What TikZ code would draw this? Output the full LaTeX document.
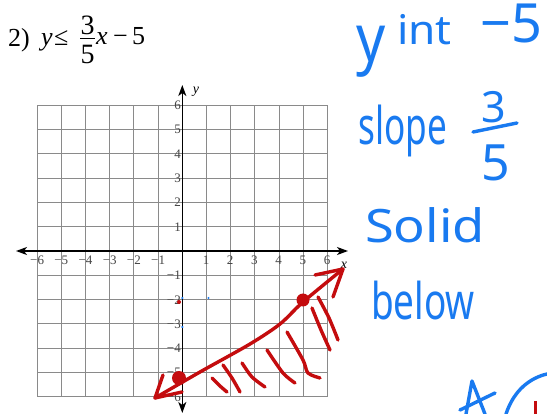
\documentclass[tikz,border=0pt]{standalone}
\usepackage{fontspec}
\setmainfont{Liberation Serif}
\newfontfamily\handfont{Noto Sans}
\usetikzlibrary{arrows.meta}
\definecolor{pen}{RGB}{25,122,240}
\definecolor{ink}{RGB}{196,12,14}
\definecolor{gridc}{RGB}{138,138,138}
\definecolor{labc}{RGB}{70,70,70}
\newcommand\hwtext[4]{{\handfont\fontsize{#1}{#1}\selectfont\scalebox{#2}[#3]{#4}}}
\begin{document}
\begin{tikzpicture}[x=1pt,y=-1pt,
  gridline/.style={draw=gridc,line width=1.1pt},
  axisline/.style={draw=black,line width=1.5pt,{Stealth[length=11pt,width=8pt,inset=3pt]}-{Stealth[length=11pt,width=8pt,inset=3pt]}},
  ticklab/.style={font=\fontsize{13}{13}\selectfont,text=labc,inner sep=0pt,anchor=base},
  yticklab/.style={ticklab,anchor=base east},
  axlab/.style={font=\fontsize{14}{14}\selectfont\itshape,inner sep=0pt},
  redpen/.style={draw=ink,line width=3.4pt,line cap=round,line join=round},
  bluepen/.style={draw=pen,line width=3.4pt,line cap=round,line join=round},
  hand/.style={text=pen,inner sep=0pt,anchor=base west},
  title/.style={font=\fontsize{26}{26}\selectfont,inner sep=0pt,anchor=base west},
  fracdig/.style={font=\fontsize{28}{28}\selectfont,inner sep=0pt,anchor=base}]
\useasboundingbox (0,0) rectangle (547,414);
\fill[white] (0,0) rectangle (547,414);

% grid
\foreach \i in {-6,...,6} {
  \draw[gridline] ({182.3+\i*24.2},105.2) -- ({182.3+\i*24.2},396.8);
  \draw[gridline] (37.1,{251+\i*24.3}) -- (327.5,{251+\i*24.3});
}

% axes
\coordinate (xa) at (16,251);
\coordinate (xb) at (348,251);
\coordinate (ya) at (182.3,85);
\coordinate (yb) at (182.3,413);
\draw[axisline] (xa) -- (xb);
\draw[axisline] (ya) -- (yb);

% tick labels
\foreach \i in {1,...,6} {
  \node[ticklab] (xp\i) at ({182.3+\i*24.2-0.5},265) {\i};
  \node[ticklab] (xn\i) at ({182.3-\i*24.2},265) {−\i};
  \node[yticklab] (yp\i) at (181,{251-\i*24.3+4.5}) {\i};
  \node[yticklab] (yn\i) at (181,{251+\i*24.3+4.5}) {−\i};
}
\node[axlab] (xlab) at (344,265) {x};
\node[axlab] (ylab) at (196,92) {y};

% title
\node[title] (num) at (8,47) {2)};
\node[title] (yv) at (41,46) {\itshape y};
\node[title] (le) at (54,46) {≤};
\node[fracdig] (num3) at (87.5,35) {3};
\coordinate (fb1) at (80,38.5);
\coordinate (fb2) at (95,38.5);
\draw[line width=1pt] (fb1) -- (fb2);
\node[fracdig] (den5) at (87.5,64) {5};
\node[title] (xv) at (96,45) {\itshape x};
\node[title] (mn) at (113,45) {−};
\node[title] (five) at (132,45) {5};

% small stray marks
\fill[pen] (182.3,298) circle (1.2);
\fill[pen] (208.5,298) circle (1.2);
\fill[pen] (182.3,327) circle (1.2);
\fill[ink] (179,302) circle (2);

% red boundary line with arrows
\draw[redpen] plot[smooth] coordinates {(155,398) (200,372) (250,344) (280,324) (303,302) (343,269)};
\draw[redpen] (315,275) -- (343,269) -- (333,297);
\draw[redpen] (163,375) -- (155,398) -- (182,392);
\fill[ink] (179,378) circle (7);
\fill[ink] (303,300) circle (6.5);

% hatching
\draw[redpen] plot[smooth] coordinates {(212,378) (220,386) (227,392)};
\draw[redpen] plot[smooth] coordinates {(223,365) (232,378) (240,392)};
\draw[redpen] plot[smooth] coordinates {(242,363) (252,377) (265,387)};
\draw[redpen] plot[smooth] coordinates {(267,350) (283,373) (295,383)};
\draw[redpen] plot[smooth] coordinates {(287,332) (303,360) (308,373) (320,378)};
\draw[redpen] plot[smooth] coordinates {(312,308) (321,330) (330,350)};
\draw[redpen] plot[smooth] coordinates {(318,297) (329,318) (338,340)};

% handwriting
\node[hand] (w1) at (356,62) {\hwtext{44}{1.3}{1.5}{y}};
\node[hand] (w2) at (397,45) {\hwtext{34}{1.3}{1.2}{int}};
\node[hand] (w3) at (480,43) {\hwtext{54}{1}{1}{−5}};
\node[hand] (w4) at (358,145) {\hwtext{40}{0.88}{1.3}{slope}};
\node[hand] (w5) at (481,123) {\hwtext{43}{1}{1}{3}};
\coordinate (sb1) at (473,132);
\coordinate (sb2) at (517,123);
\draw[bluepen] (sb1) -- (sb2);
\node[hand] (w6) at (481,181) {\hwtext{50}{1}{1}{5}};
\node[hand] (w7) at (365,243) {\hwtext{46}{1.14}{1}{Solid}};
\node[hand] (w8) at (371,320) {\hwtext{44}{0.84}{1.15}{below}};

% cut-off scribbles bottom right
\draw[bluepen] (466,414) -- (472,381) -- (485,414);
\draw[bluepen] (460,410) -- (495,393);
\draw[bluepen] (506,414) .. controls (514,390) and (530,378) .. (547,374);
\draw[ink,line width=3pt] (535,401) -- (535,414);
\end{tikzpicture}
\end{document}
